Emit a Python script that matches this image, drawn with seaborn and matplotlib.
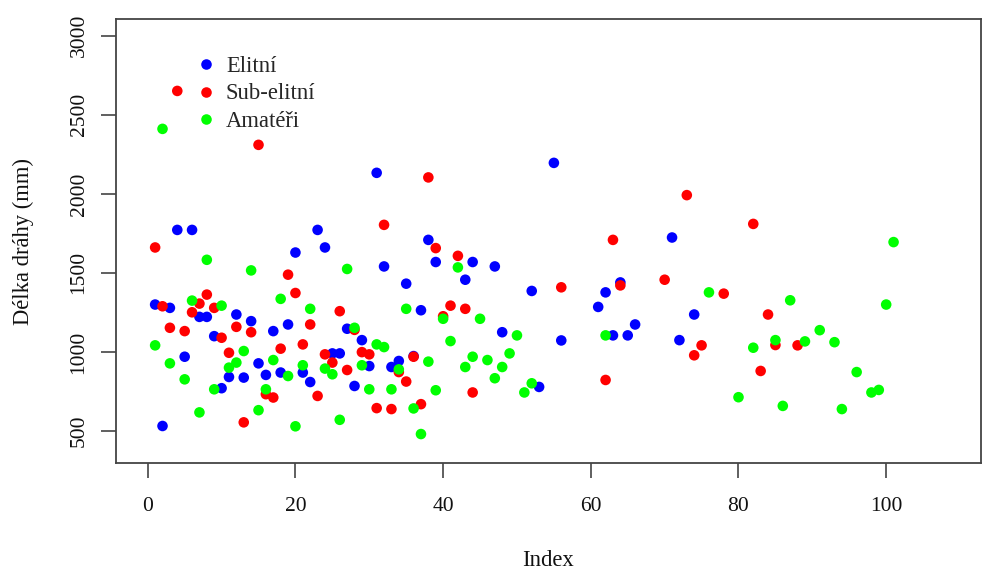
import numpy as np
import pandas as pd
import matplotlib
matplotlib.use("Agg")
import matplotlib.pyplot as plt
from matplotlib.lines import Line2D
import seaborn as sns

nan = np.nan

# Path length (mm) per measurement index; nan = no measurement
elitni = [1300, 532, 1279, 1772, 970, 1772, 1222, 1222, 1100, 771,
          842, 1237, 838, 1195, 928, 855, 1132, 870, 1174, 1629,
          870, 810, 1772, 1661, 991, 991, 1147, 785, 1075, 911,
          2133, 1541, 905, 943, 1432, 974, 1264, 1709, 1569, nan,
          nan, nan, 1457, 1569, nan, nan, 1541, 1125, nan, nan,
          nan, 1386, 779, nan, 2196, 1073, nan, nan, nan, nan,
          1285, 1377, 1105, 1440, 1105, 1174, nan, nan, nan, nan,
          1724, 1075, nan, 1237]

sub_elitni = [1661, 1289, 1153, 2651, 1132, 1251, 1306, 1363, 1279, 1090,
              995, 1159, 555, 1125, 2310, 733, 712, 1021, 1489, 1373,
              1048, 1174, 722, 985, 933, 1258, 886, 1140, 999, 985,
              645, 1804, 639, 873, 813, 970, 670, 2104, 1657, 1226,
              1293, 1608, 1273, 744, nan, nan, nan, nan, nan, nan,
              nan, nan, nan, nan, nan, 1409, nan, nan, nan, nan,
              nan, 823, 1709, 1421, nan, nan, nan, nan, nan, 1457,
              nan, nan, 1992, 979, 1042, nan, nan, 1369, nan, nan,
              nan, 1810, 880, 1237, 1044, nan, nan, 1042]

amateri = [1042, 2411, 928, nan, 827, 1325, 618, 1583, 764, 1293,
           901, 933, 1006, 1516, 632, 764, 949, 1336, 848, 530,
           916, 1273, nan, 895, 859, 571, 1525, 1153, 916, 764,
           1048, 1031, 764, 890, 1273, 643, 481, 939, 758, 1210,
           1069, 1535, 905, 970, 1210, 949, 834, 905, 991, 1105,
           744, 802, nan, nan, nan, nan, nan, nan, nan, nan,
           nan, 1105, nan, nan, nan, nan, nan, nan, nan, nan,
           nan, nan, nan, nan, nan, 1377, nan, nan, nan, 714,
           nan, 1027, nan, nan, 1075, 659, 1327, nan, 1067, nan,
           1138, nan, 1062, 639, nan, 873, nan, 744, 760, 1300,
           1695]

skupiny = ["Elitní", "Sub-elitní", "Amatéři"]
barvy = ["#0000ff", "#ff0000", "#00ff00"]
x_ticks = [0, 20, 40, 60, 80, 100]
y_ticks = [500, 1000, 1500, 2000, 2500, 3000]

frames = []
for name, vals in zip(skupiny, [elitni, sub_elitni, amateri]):
    frames.append(pd.DataFrame({"Index": np.arange(1, len(vals) + 1),
                                "delka": vals, "skupina": name}))
df = pd.concat(frames, ignore_index=True).dropna()

sns.set_style("white")
plt.rcParams["font.family"] = ["Liberation Serif", "DejaVu Serif"]

fig = plt.figure(figsize=(9.84, 5.72), dpi=100)
ax = fig.add_axes([115.7 / 984, 1 - 463.3 / 572, (981 - 115.7) / 984, (463.3 - 19.3) / 572])

sns.scatterplot(data=df, x="Index", y="delka", hue="skupina",
                hue_order=skupiny, palette=dict(zip(skupiny, barvy)),
                s=58, linewidth=0, marker="o", legend=False, ax=ax)

ax.set_xlim(-4.34, 112.84)
ax.set_ylim(296, 3104)
ax.set_xticks(x_ticks)
ax.set_yticks(y_ticks)
ax.set_xticklabels([str(t) for t in x_ticks], fontsize=15.5)
ax.set_yticklabels([str(t) for t in y_ticks], fontsize=15.5, rotation=90, va="center")
ax.tick_params(axis="both", direction="out", length=11, width=1.2,
               color="#444444", labelcolor="#111111")
ax.tick_params(axis="x", bottom=True, pad=13)
ax.tick_params(axis="y", left=True, pad=8.5)

for sp in ax.spines.values():
    sp.set_color("#444444")
    sp.set_linewidth(1.3)

ax.set_xlabel("Index", fontsize=16.3, labelpad=25, color="#111111")
ax.set_ylabel("Délka dráhy (mm)", fontsize=16.3, labelpad=26, color="#111111")

handles = [Line2D([0], [0], marker="o", linestyle="none", markersize=7.6,
                  markerfacecolor=c, markeredgewidth=0) for c in barvy]
ax.legend(handles, skupiny, loc="upper left", bbox_to_anchor=(0.0908, 0.917),
          frameon=False, fontsize=16.3, borderpad=0, borderaxespad=0,
          handlelength=1.0, handletextpad=0.4, labelspacing=0.28)

fig.savefig("out.png", dpi=100)
